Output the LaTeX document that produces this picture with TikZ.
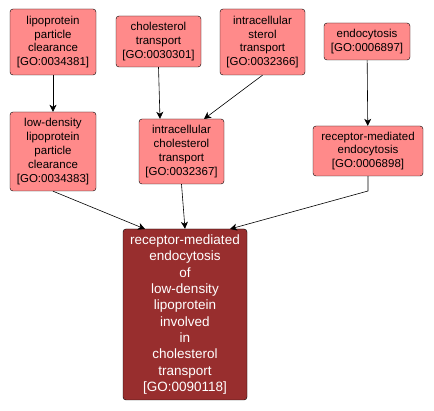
\documentclass[tikz,border=0pt]{standalone}
\usepackage{fontspec}
\setmainfont{Liberation Sans}
\usetikzlibrary{arrows.meta}
\definecolor{goterm}{HTML}{FF8A8A}
\definecolor{gomain}{HTML}{982E2E}

\begin{document}
\begin{tikzpicture}[x=1pt, y=-1pt,
        term/.style={draw, fill=goterm, rounded corners=3pt, align=center,
            inner sep=0pt, font=\fontsize{11.5}{13.8}\selectfont},
        arr/.style={-{Stealth[length=7pt,width=7pt,inset=2pt]}, semithick}]
    \useasboundingbox (0,0) rectangle (434,411);
        \node[term, minimum width=86pt, minimum height=66pt] (A) at (53,42)
            {lipoprotein\\particle\\clearance\\{[}GO:0034381{]}};
        \node[term, minimum width=85pt, minimum height=51pt] (B) at (158.5,41.5)
            {cholesterol\\transport\\{[}GO:0030301{]}};
        \node[term, minimum width=85pt, minimum height=66pt] (C) at (262.5,42)
            {intracellular\\sterol\\transport\\{[}GO:0032366{]}};
        \node[term, minimum width=86pt, minimum height=37pt] (D) at (367,41.5)
            {endocytosis\\{[}GO:0006897{]}};
        \node[term, minimum width=86pt, minimum height=79pt] (E) at (53,151.5)
            {low-density\\lipoprotein\\particle\\clearance\\{[}GO:0034383{]}};
        \node[term, minimum width=85pt, minimum height=65pt] (F) at (181.5,151.5)
            {intracellular\\cholesterol\\transport\\{[}GO:0032367{]}};
        \node[term, minimum width=110pt, minimum height=50pt] (G) at (368,151)
            {receptor-mediated\\endocytosis\\{[}GO:0006898{]}};
        \node[term, fill=gomain, text=white, minimum width=124pt, minimum height=171pt,
            font=\fontsize{13.5}{16.3}\selectfont] (H) at (185,314.5)
            {receptor-mediated\\endocytosis\\of\\low-density\\lipoprotein\\involved\\in\\cholesterol\\transport\\{[}GO:0090118{]}};
        \coordinate (G1) at (368,191);
        \draw[arr] (A) -- (E);
        \draw[arr] (B.south) -- (F.north -| 160,0);
        \draw[arr] (C.south) -- (204,119);
        \draw[arr] (D) -- (G);
        \draw[arr] (E.south) -- (145,229);
        \draw[arr] (F.south) -- (H.north);
        \draw[arr] (G.south) -- (G1) -- (230,229);
    \end{tikzpicture}
\end{document}
